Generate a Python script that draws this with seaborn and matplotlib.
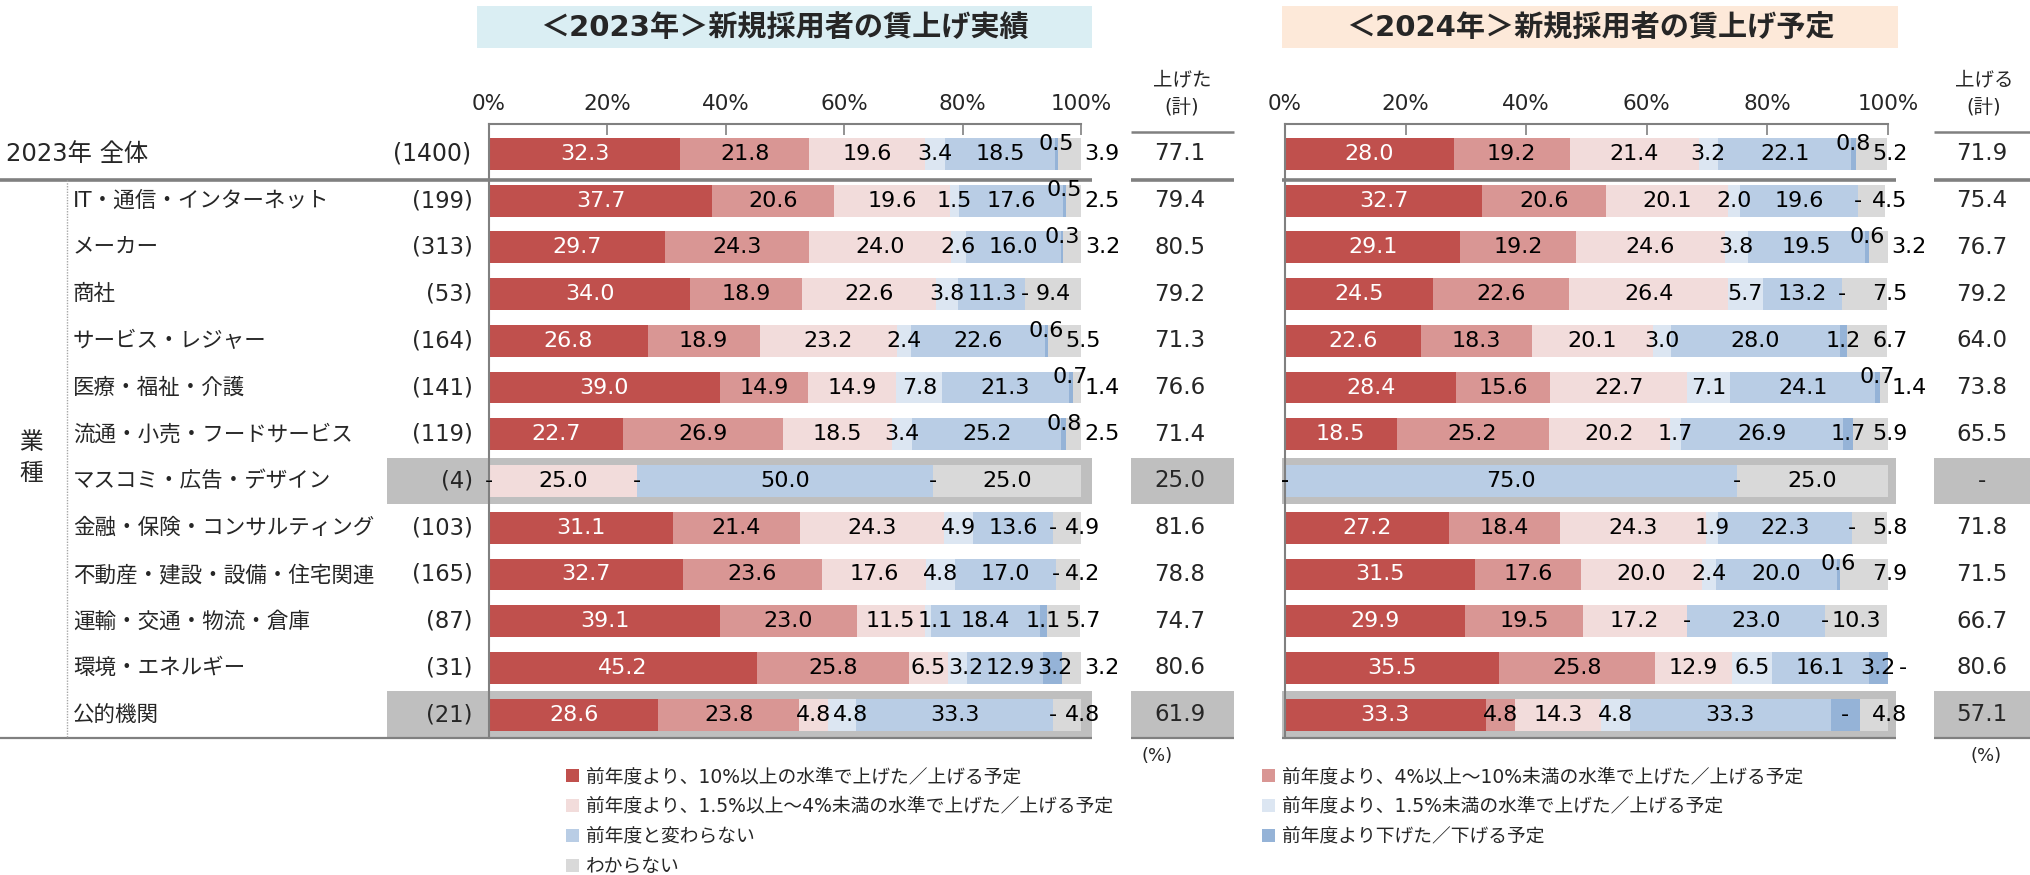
import numpy as np
import pandas as pd
import matplotlib
matplotlib.use("Agg")
import matplotlib.pyplot as plt
import seaborn as sns
from matplotlib.patches import Patch, Rectangle
from matplotlib.transforms import blended_transform_factory

# rows (top to bottom)
categories = ["2023年 全体", "IT・通信・インターネット", "メーカー", "商社", "サービス・レジャー",
              "医療・福祉・介護", "流通・小売・フードサービス", "マスコミ・広告・デザイン",
              "金融・保険・コンサルティング", "不動産・建設・設備・住宅関連", "運輸・交通・物流・倉庫",
              "環境・エネルギー", "公的機関"]
counts = [1400, 199, 313, 53, 164, 141, 119, 4, 103, 165, 87, 31, 21]

# 2023 results (%)
r23_10up = [32.3, 37.7, 29.7, 34.0, 26.8, 39.0, 22.7, 0, 31.1, 32.7, 39.1, 45.2, 28.6]
r23_4to10 = [21.8, 20.6, 24.3, 18.9, 18.9, 14.9, 26.9, 0, 21.4, 23.6, 23.0, 25.8, 23.8]
r23_15to4 = [19.6, 19.6, 24.0, 22.6, 23.2, 14.9, 18.5, 25.0, 24.3, 17.6, 11.5, 6.5, 4.8]
r23_under15 = [3.4, 1.5, 2.6, 3.8, 2.4, 7.8, 3.4, 0, 4.9, 4.8, 1.1, 3.2, 4.8]
r23_same = [18.5, 17.6, 16.0, 11.3, 22.6, 21.3, 25.2, 50.0, 13.6, 17.0, 18.4, 12.9, 33.3]
r23_down = [0.5, 0.5, 0.3, 0, 0.6, 0.7, 0.8, 0, 0, 0, 1.1, 3.2, 0]
r23_unknown = [3.9, 2.5, 3.2, 9.4, 5.5, 1.4, 2.5, 25.0, 4.9, 4.2, 5.7, 3.2, 4.8]
raised_23 = [77.1, 79.4, 80.5, 79.2, 71.3, 76.6, 71.4, 25.0, 81.6, 78.8, 74.7, 80.6, 61.9]

# 2024 plans (%)
p24_10up = [28.0, 32.7, 29.1, 24.5, 22.6, 28.4, 18.5, 0, 27.2, 31.5, 29.9, 35.5, 33.3]
p24_4to10 = [19.2, 20.6, 19.2, 22.6, 18.3, 15.6, 25.2, 0, 18.4, 17.6, 19.5, 25.8, 4.8]
p24_15to4 = [21.4, 20.1, 24.6, 26.4, 20.1, 22.7, 20.2, 0, 24.3, 20.0, 17.2, 12.9, 14.3]
p24_under15 = [3.2, 2.0, 3.8, 5.7, 3.0, 7.1, 1.7, 0, 1.9, 2.4, 0, 6.5, 4.8]
p24_same = [22.1, 19.6, 19.5, 13.2, 28.0, 24.1, 26.9, 75.0, 22.3, 20.0, 23.0, 16.1, 33.3]
p24_down = [0.8, 0, 0.6, 0, 1.2, 0.7, 1.7, 0, 0, 0.6, 0, 3.2, 4.8]
p24_unknown = [5.2, 4.5, 3.2, 7.5, 6.7, 1.4, 5.9, 25.0, 5.8, 7.9, 10.3, 0, 4.8]
raised_24 = [71.9, 75.4, 76.7, 79.2, 64.0, 73.8, 65.5, None, 71.8, 71.5, 66.7, 80.6, 57.1]
# segment shown with "-" in the source even though it has width
label_dash_24 = [(12, 5)]

legend_labels = ["前年度より、10%以上の水準で上げた／上げる予定",
                 "前年度より、4%以上～10%未満の水準で上げた／上げる予定",
                 "前年度より、1.5%以上～4%未満の水準で上げた／上げる予定",
                 "前年度より、1.5%未満の水準で上げた／上げる予定",
                 "前年度と変わらない",
                 "前年度より下げた／下げる予定",
                 "わからない"]
colors = ["#C0504D", "#D99694", "#F2DCDB", "#DCE6F2", "#B9CDE5", "#95B3D7", "#D9D9D9"]

sns.set_style("white")
plt.rcParams["font.family"] = ["DejaVu Sans", "Noto Sans CJK JP"]

W, H = 2031, 875
fig = plt.figure(figsize=(W / 100, H / 100), dpi=100)

def fx(x):
    return x / W

def fy(y):
    return 1 - y / H

AX_TOP, AX_BOT = 124, 738
YLIM = (12.5, -0.64)
GRID = "#808080"
HILITE = "#BFBFBF"
LABEL_FS = 16

bg = fig.add_axes([0, 0, 1, 1], zorder=0)
bg.set_xlim(0, W)
bg.set_ylim(H, 0)
bg.axis("off")

axL = fig.add_axes([fx(489), fy(AX_BOT), (1081 - 489) / W, (AX_BOT - AX_TOP) / H], zorder=2)
axR = fig.add_axes([fx(1285), fy(AX_BOT), (1888 - 1285) / W, (AX_BOT - AX_TOP) / H], zorder=2)


def text_width_pct(ax, txt):
    # rough DejaVu Sans advance widths, converted to % of the axis
    em = LABEL_FS * 100 / 72
    w = sum(0.636 if ch.isdigit() else 0.33 for ch in txt) * em
    return w / (ax.get_position().width * W) * 100


def draw_panel(ax, series, dash_cells):
    arr = np.array(series, dtype=float)
    cum = arr.cumsum(axis=0)
    df = pd.DataFrame({"cat": categories})
    # stack: draw the longest cumulative first, shorter ones on top
    for k in range(6, -1, -1):
        df["x"] = cum[k]
        sns.barplot(data=df, x="x", y="cat", order=categories, color=colors[k], orient="h",
                    width=0.68, saturation=1, linewidth=0, errorbar=None, ax=ax)
    ax.set_facecolor("none")
    ax.set_xlim(0, 100)
    ax.set_ylim(*YLIM)
    ax.set_xlabel("")
    ax.set_ylabel("")
    ax.xaxis.set_ticks_position("top")
    ax.set_xticks(range(0, 101, 20))
    ax.set_xticklabels([f"{t}%" for t in range(0, 101, 20)])
    ax.tick_params(axis="x", which="major", direction="in", length=8, width=1.2, color=GRID,
                   top=True, bottom=False, labeltop=True, labelbottom=False, labelsize=15.5, pad=7)
    ax.tick_params(axis="y", which="major", length=0, labelleft=False)
    ax.set_yticks(np.arange(0.5, 12, 1), minor=True)
    ax.tick_params(axis="y", which="minor", direction="in", length=6, width=1.2, color=GRID)
    for s in ["right", "bottom"]:
        ax.spines[s].set_visible(False)
    for s in ["left", "top"]:
        ax.spines[s].set_color(GRID)
        ax.spines[s].set_linewidth(1.5)

    for i in range(arr.shape[1]):
        prev_right = -10
        for k in range(7):
            v = arr[k, i]
            start = cum[k, i] - v
            y = i
            ha = "center"
            if (i, k) in dash_cells:
                txt, x = "-", start + v / 2
            elif v == 0:
                txt, x = "-", start
                if k == 6:
                    x, ha = start + 1.8, "left"
            else:
                txt, x = f"{v:.1f}", start + v / 2
                if k == 5 and v < 1:
                    y = i - 0.22
                if k == 6 and v < 4:
                    x, ha = cum[k, i] + 0.6, "left"
                elif k == 6 and v < 8:
                    x = max(x, 100.3)
            w = text_width_pct(ax, txt)
            left = x - w / 2 if ha == "center" else x
            # nudge labels of thin neighbouring segments apart
            if y == i and txt != "-" and left < prev_right + 0.3:
                x += prev_right + 0.3 - left
                left = prev_right + 0.3
            if y == i and txt != "-":
                prev_right = left + w
            ax.text(x, y, txt, ha=ha, va="center", fontsize=LABEL_FS,
                    color="white" if k == 0 else "black", clip_on=False)


draw_panel(axL, [r23_10up, r23_4to10, r23_15to4, r23_under15, r23_same, r23_down, r23_unknown], [])
draw_panel(axR, [p24_10up, p24_4to10, p24_15to4, p24_under15, p24_same, p24_down, p24_unknown],
           label_dash_24)

# x in figure pixels, y in row units
rowtr = blended_transform_factory(bg.transData, axL.transData)

# highlighted rows
for i in [7, 12]:
    for x0, x1 in [(387, 1092), (1131, 1234), (1282, 1896), (1934, 2031)]:
        bg.add_patch(Rectangle((x0, i - 0.5), x1 - x0, 1.0, transform=rowtr,
                               facecolor=HILITE, edgecolor="none", zorder=0))

# horizontal rules
for x0, x1 in [(0, 1092), (1131, 1234), (1282, 1896), (1934, 2031)]:
    bg.plot([x0, x1], [0.56, 0.56], transform=rowtr, color=GRID, lw=2.6, solid_capstyle="butt")
    bg.plot([x0, x1], [12.5, 12.5], transform=rowtr, color=GRID, lw=1.6, solid_capstyle="butt")
for x0, x1 in [(1131, 1234), (1934, 2031)]:
    bg.plot([x0, x1], [132, 132], color=GRID, lw=1.8, solid_capstyle="butt")
bg.plot([67, 67], [0.56, 12.5], transform=rowtr, color="#A6A6A6", lw=1, ls=(0, (1, 1)))

# row labels, counts, totals
for i, (cat, n) in enumerate(zip(categories, counts)):
    if i == 0:
        bg.text(6, i, cat, transform=rowtr, ha="left", va="center", fontsize=17.5)
        bg.text(471, i, f"({n})", transform=rowtr, ha="right", va="center", fontsize=17)
    else:
        bg.text(73, i, cat, transform=rowtr, ha="left", va="center", fontsize=15.5)
        bg.text(473, i, f"({n})", transform=rowtr, ha="right", va="center", fontsize=16.3)
    t23 = raised_23[i]
    t24 = raised_24[i]
    bg.text(1180, i, f"{t23:.1f}", transform=rowtr, ha="center", va="center", fontsize=16.5)
    bg.text(1982, i, "-" if t24 is None else f"{t24:.1f}", transform=rowtr,
            ha="center", va="center", fontsize=16.5)

bg.text(31, 6.5, "業\n種", transform=rowtr, ha="center", va="center", fontsize=17, linespacing=1.35)

# column headers
bg.text(1182, 80, "上げた", ha="center", va="center", fontsize=14)
bg.text(1182, 107, "(計)", ha="center", va="center", fontsize=14)
bg.text(1984, 80, "上げる", ha="center", va="center", fontsize=14)
bg.text(1984, 107, "(計)", ha="center", va="center", fontsize=14)
bg.text(1157, 756, "(%)", ha="center", va="center", fontsize=13)
bg.text(1986, 756, "(%)", ha="center", va="center", fontsize=13)

# panel titles
bg.add_patch(Rectangle((477, 6), 615, 42, facecolor="#DAEEF3", edgecolor="none"))
bg.add_patch(Rectangle((1282, 6), 616, 42, facecolor="#FDE9D9", edgecolor="none"))
bg.text(784, 28, "＜2023年＞新規採用者の賃上げ実績", ha="center", va="center",
        fontsize=21, fontweight="bold")
bg.text(1590, 28, "＜2024年＞新規採用者の賃上げ予定", ha="center", va="center",
        fontsize=21, fontweight="bold")

# legend in two columns
handles = [Patch(facecolor=c, edgecolor="none") for c in colors]
leg_kw = dict(loc="upper left", frameon=False, fontsize=13.5, handlelength=0.7, handleheight=0.7,
              handletextpad=0.35, labelspacing=0.58, borderaxespad=0, borderpad=0)
fig.legend([handles[i] for i in [0, 2, 4, 6]], [legend_labels[i] for i in [0, 2, 4, 6]],
           bbox_to_anchor=(fx(566), fy(767)), **leg_kw)
fig.legend([handles[i] for i in [1, 3, 5]], [legend_labels[i] for i in [1, 3, 5]],
           bbox_to_anchor=(fx(1262), fy(767)), **leg_kw)

fig.savefig("out.png", dpi=100)
